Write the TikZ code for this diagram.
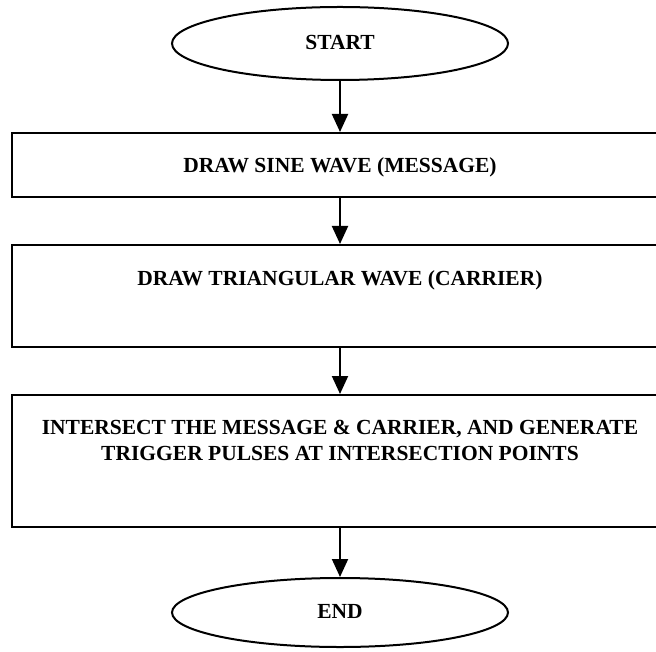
\documentclass[tikz,border=0pt]{standalone}
\usepackage{fontspec}
\setmainfont{Liberation Serif}
\usetikzlibrary{shapes.geometric,arrows.meta}
\tikzset{
  flowline/.style={line width=1pt},
  arr/.style={flowline,-{Triangle[width=8pt,length=9pt]}},
  termnode/.style={ellipse,draw,flowline,minimum width=168pt,inner sep=0pt},
  stepbox/.style={rectangle,draw,flowline,minimum width=328pt,inner sep=0pt},
  txt/.style={font=\fontsize{10.75}{13}\selectfont\bfseries,align=center,inner sep=0pt}
}
\begin{document}
\begin{tikzpicture}[x=0.5pt,y=-0.5pt]
\useasboundingbox (0,0) rectangle (656,651);
\clip (0,0) rectangle (656,651);
\node[termnode,minimum height=36.5pt] (start) at (340,43.5) {};
\node[txt] (starttxt) at (340,42) {START};
\node[stepbox,minimum height=32pt] (b1) at (340,165) {};
\node[txt] (b1txt) at (340,167) {DRAW SINE WAVE (MESSAGE)};
\node[stepbox,minimum height=51pt] (b2) at (340,296) {};
\node[txt] (b2txt) at (340,280) {DRAW TRIANGULAR WAVE (CARRIER)};
\node[stepbox,minimum height=66pt] (b3) at (340,461) {};
\node[txt] (b3txt) at (340,440) {INTERSECT THE MESSAGE \& CARRIER, AND GENERATE\\TRIGGER PULSES AT INTERSECTION POINTS};
\node[termnode,minimum height=34.5pt] (end) at (340,612.5) {};
\node[txt] (endtxt) at (340,611) {END};
\draw[arr] (start.south) -- (b1.north);
\draw[arr] (b1.south) -- (b2.north);
\draw[arr] (b2.south) -- (b3.north);
\draw[arr] (b3.south) -- (end.north);
\end{tikzpicture}
\end{document}
